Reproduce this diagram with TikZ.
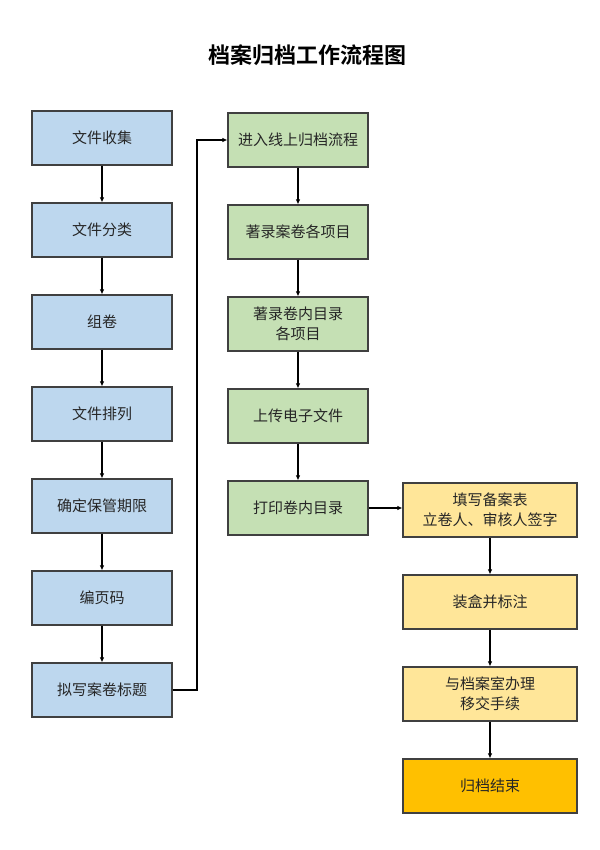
\documentclass[tikz,border=0pt]{standalone}
\usepackage{fontspec}
\newfontfamily\cjk{Noto Sans CJK SC}
\newfontfamily\cjkbold{Noto Sans CJK SC Bold}
\usetikzlibrary{arrows.meta}
\definecolor{bluebox}{HTML}{BDD7EE}
\definecolor{greenbox}{HTML}{C5E0B4}
\definecolor{yellowbox}{HTML}{FFE699}
\definecolor{goldbox}{HTML}{FFC000}
\definecolor{edge}{HTML}{404040}
\begin{document}
\begin{tikzpicture}[x=1pt,y=-1pt,
  box/.style={draw=edge,line width=1.1pt,minimum height=54pt,inner sep=0pt,align=center,
    font=\cjk\fontsize{15}{20}\selectfont,text=black!85},
  bluestep/.style={box,fill=bluebox,minimum width=140pt},
  greenstep/.style={box,fill=greenbox,minimum width=140pt},
  yellowstep/.style={box,fill=yellowbox,minimum width=174pt},
  goldstep/.style={box,fill=goldbox,minimum width=174pt},
  conn/.style={draw=black,line width=1.2pt,-{Latex[length=5pt,width=4.5pt]}}]
\useasboundingbox (0,0) rectangle (599,850);
\fill[white] (0,0) rectangle (599,850);
\node[font=\cjkbold\fontsize{22}{26}\selectfont] (title) at (307,55) {档案归档工作流程图};
% left column
\node[bluestep] (a1) at (102,138) {文件收集};
\node[bluestep] (a2) at (102,230) {文件分类};
\node[bluestep] (a3) at (102,322) {组卷};
\node[bluestep] (a4) at (102,414) {文件排列};
\node[bluestep] (a5) at (102,506) {确定保管期限};
\node[bluestep] (a6) at (102,598) {编页码};
\node[bluestep] (a7) at (102,690) {拟写案卷标题};
% middle column
\node[greenstep] (b1) at (298,140) {进入线上归档流程};
\node[greenstep] (b2) at (298,232) {著录案卷各项目};
\node[greenstep] (b3) at (298,324) {著录卷内目录\\各项目};
\node[greenstep] (b4) at (298,416) {上传电子文件};
\node[greenstep] (b5) at (298,508) {打印卷内目录};
% right column
\node[yellowstep] (c1) at (490,510) {填写备案表\\立卷人、审核人签字};
\node[yellowstep] (c2) at (490,602) {装盒并标注};
\node[yellowstep] (c3) at (490,694) {与档案室办理\\移交手续};
\node[goldstep] (c4) at (490,786) {归档结束};
% connectors
\draw[conn] (a1) -- (a2);
\draw[conn] (a2) -- (a3);
\draw[conn] (a3) -- (a4);
\draw[conn] (a4) -- (a5);
\draw[conn] (a5) -- (a6);
\draw[conn] (a6) -- (a7);
\coordinate (j1) at (197,690);
\coordinate (j2) at (197,140);
\draw[conn] (a7.east) -- (j1) -- (j2) -- (b1.west);
\draw[conn] (b1) -- (b2);
\draw[conn] (b2) -- (b3);
\draw[conn] (b3) -- (b4);
\draw[conn] (b4) -- (b5);
\draw[conn] (b5.east) -- (b5.east -| c1.west);
\draw[conn] (c1) -- (c2);
\draw[conn] (c2) -- (c3);
\draw[conn] (c3) -- (c4);
\end{tikzpicture}
\end{document}
